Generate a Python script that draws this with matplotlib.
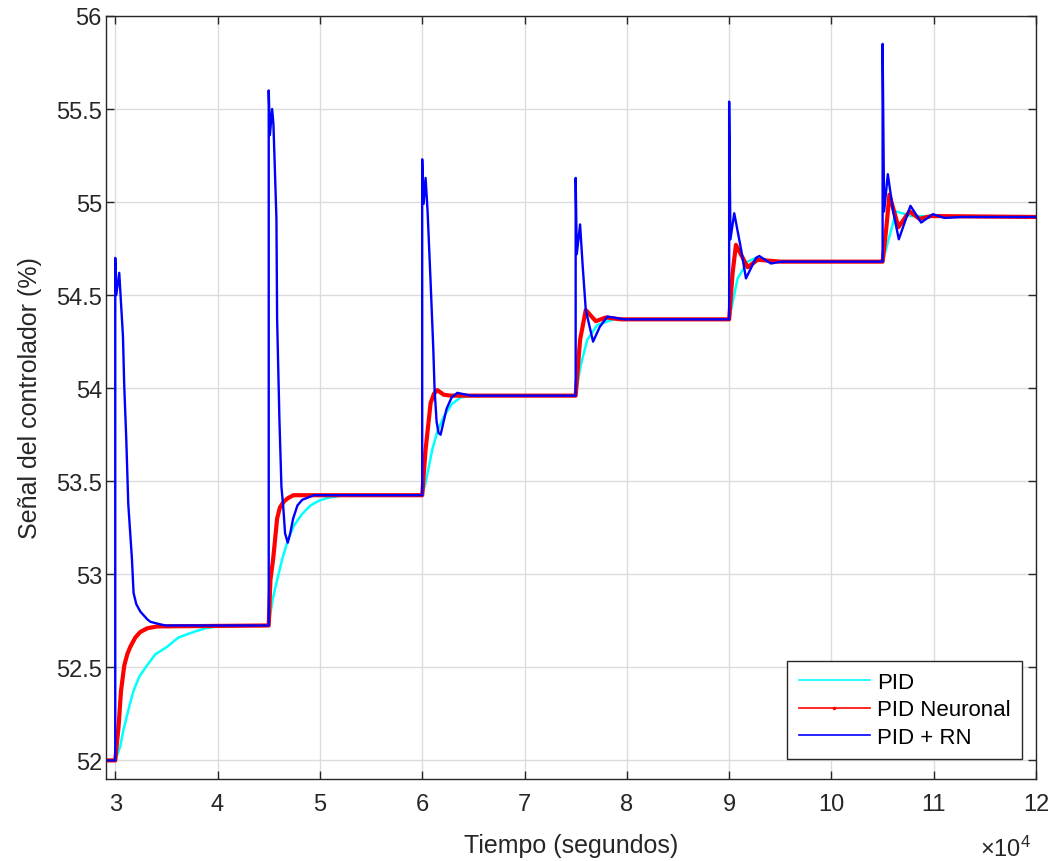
import matplotlib
matplotlib.use('Agg')
import matplotlib.pyplot as plt
from matplotlib.lines import Line2D

plt.rcParams['font.family'] = ['Liberation Sans', 'DejaVu Sans']
plt.rcParams['mathtext.default'] = 'regular'

# tiempo (s) y señal (%)
t_pid = [29000, 30000, 30489, 30783, 31145, 31419, 31761, 32348, 33102, 33914, 35059, 36165, 37632, 38807, 39951,
         45000, 45362, 45822, 46312, 46860, 47447, 48200, 49081, 49900, 50715, 52310,
         60000, 60332, 60984, 61500, 62126, 62900, 63749, 64736,
         75000, 75480, 76135, 77114, 78709,
         90000, 90831, 91810, 92622, 94000,
         105000, 105832, 106321, 107789, 120000]
y_pid = [52.0, 52.0, 52.075, 52.16, 52.24, 52.30, 52.37, 52.45, 52.51, 52.57, 52.61, 52.66, 52.69, 52.71, 52.72,
         52.725, 52.86, 52.97, 53.08, 53.18, 53.26, 53.32, 53.37, 53.395, 53.41, 53.425,
         53.425, 53.49, 53.67, 53.77, 53.85, 53.915, 53.95, 53.96,
         53.96, 54.12, 54.26, 54.34, 54.37,
         54.37, 54.59, 54.68, 54.70, 54.68,
         54.68, 54.85, 54.95, 54.925, 54.92]

t_neuronal = [29000, 30000, 30323, 30558, 30881, 31174, 31468, 31957, 32446, 33131, 34110,
              45000, 45166, 45430, 45822, 46100, 46468, 46900, 47417,
              60000, 60332, 60822, 61150, 61478, 62100, 62779,
              75000, 75431, 75989, 76968, 77947, 79414,
              90000, 90342, 90665, 91810, 92789, 95000,
              105000, 105342, 105665, 106546, 107622, 108600, 109745, 120000]
y_neuronal = [52.0, 52.0, 52.18, 52.37, 52.51, 52.57, 52.61, 52.66, 52.69, 52.71, 52.72,
              52.725, 52.97, 53.08, 53.30, 53.36, 53.39, 53.41, 53.425,
              53.425, 53.67, 53.92, 53.97, 53.99, 53.965, 53.96,
              53.96, 54.26, 54.42, 54.36, 54.38, 54.37,
              54.37, 54.62, 54.77, 54.65, 54.69, 54.68,
              54.68, 54.85, 55.04, 54.865, 54.95, 54.91, 54.925, 54.92]

t_rn = [29000, 30000, 30000, 30098, 30391, 30753, 30881, 31076, 31272, 31634, 31791, 32055, 32446, 33102, 33425, 34110, 34900,
        45000, 45000, 45117, 45333, 45460, 45754, 45822, 46047, 46243, 46409, 46600, 46860, 47100, 47388, 47809, 48269, 49404,
        60000, 60000, 60137, 60332, 60528, 60822, 61086, 61213, 61409, 61600, 61800, 62050, 62387, 62876, 63435, 64736,
        75000, 75000, 75108, 75431, 75695, 75989, 76703, 77358, 78112, 79736,
        90000, 90000, 90127, 90499, 91155, 91644, 92622, 92945, 94090, 95068,
        105000, 105000, 105147, 105509, 106027, 106585, 107720, 108767, 109912, 111047, 112681, 120000]
y_rn = [52.0, 52.0, 54.70, 54.50, 54.62, 54.28, 54.01, 53.73, 53.38, 53.08, 52.90, 52.84, 52.80, 52.76, 52.745, 52.735, 52.725,
        52.725, 55.60, 55.36, 55.50, 55.42, 54.91, 54.37, 53.83, 53.47, 53.37, 53.22, 53.17, 53.22, 53.30, 53.37, 53.40, 53.425,
        53.425, 55.23, 54.99, 55.13, 54.95, 54.57, 54.21, 53.99, 53.82, 53.76, 53.75, 53.81, 53.89, 53.95, 53.975, 53.96,
        53.96, 55.13, 54.72, 54.88, 54.65, 54.42, 54.25, 54.33, 54.385, 54.37,
        54.37, 55.54, 54.80, 54.94, 54.75, 54.59, 54.70, 54.71, 54.67, 54.68,
        54.68, 55.85, 54.95, 55.15, 54.95, 54.80, 54.98, 54.89, 54.935, 54.915, 54.92, 54.92]

x_ticks = [30000, 40000, 50000, 60000, 70000, 80000, 90000, 100000, 110000, 120000]
x_labels = ['3', '4', '5', '6', '7', '8', '9', '10', '11', '12']
y_ticks = [52, 52.5, 53, 53.5, 54, 54.5, 55, 55.5, 56]
y_labels = ['52', '52.5', '53', '53.5', '54', '54.5', '55', '55.5', '56']

dark = '#262626'

fig = plt.figure(figsize=(10.54, 8.62), dpi=100)
ax = fig.add_axes([0.1006, 0.0951, 0.8824, 0.8852])

ax.plot(t_pid, y_pid, color='cyan', lw=1.8)
ax.plot(t_neuronal, y_neuronal, color='red', lw=3.0)
ax.plot(t_rn, y_rn, color='blue', lw=1.7)

ax.set_xlim(29100, 120000)
ax.set_ylim(51.9, 56)
ax.set_xticks(x_ticks)
ax.set_xticklabels(x_labels)
ax.set_yticks(y_ticks)
ax.set_yticklabels(y_labels)
ax.grid(True, color='#dcdcdc', lw=1)
ax.set_axisbelow(True)
ax.tick_params(direction='in', length=6, width=1, colors=dark, labelsize=17,
               top=True, right=True)
ax.tick_params(axis='x', pad=10)
ax.tick_params(axis='y', pad=3)
for s in ax.spines.values():
    s.set_color(dark)
    s.set_linewidth(1)

ax.set_xlabel('Tiempo (segundos)', fontsize=18, color=dark, labelpad=13)
ax.set_ylabel('Señal del controlador (%)', fontsize=18, color=dark, labelpad=10)
fig.text(0.93, 0.006, r'$\times$10$^{4}$', fontsize=17, color=dark)

handles = [Line2D([], [], color='cyan', lw=1.2),
           Line2D([], [], color='red', lw=1.2, marker='.', markersize=3),
           Line2D([], [], color='blue', lw=1.2)]
leg = ax.legend(handles, ['PID', 'PID Neuronal', 'PID + RN'], loc='lower right',
                bbox_to_anchor=(0.985, 0.026), borderaxespad=0,
                fontsize=16, fancybox=False, framealpha=1, edgecolor=dark,
                handlelength=3.2, borderpad=0.5,
                labelspacing=0.3, handletextpad=0.35)
leg.get_frame().set_linewidth(1)

fig.savefig('out.png', dpi=100)
